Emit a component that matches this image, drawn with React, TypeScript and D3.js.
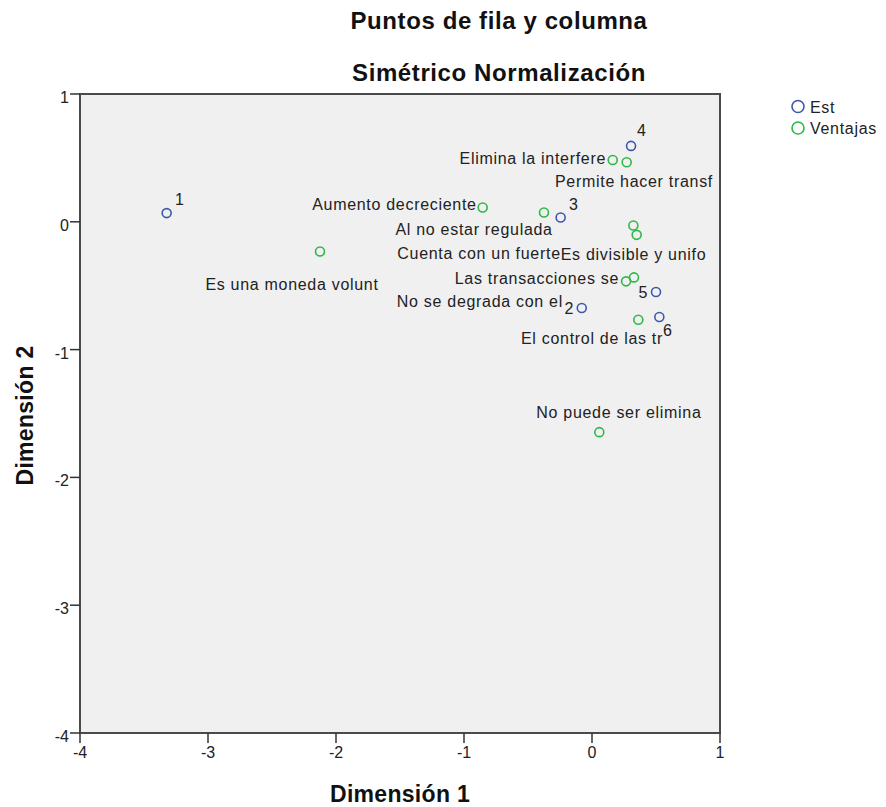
import React from "react";
import * as d3 from "d3";

const titleLines = ["Puntos de fila y columna", "Simétrico Normalización"];
const xAxisTitle = "Dimensión 1";
const yAxisTitle = "Dimensión 2";
const xTicks = [-4, -3, -2, -1, 0, 1];
const yTicks = [-4, -3, -2, -1, 0, 1];
const seriesNames = ["Est", "Ventajas"];

const estLabels = ["1", "2", "3", "4", "5", "6"];
const estDim1 = [-3.323, -0.08, -0.245, 0.305, 0.5, 0.526];
const estDim2 = [0.068, -0.674, 0.034, 0.594, -0.549, -0.745];

const ventajasLabels = [
  "Elimina la interfere",
  "Permite hacer transf",
  "Aumento decreciente",
  "Al no estar regulada",
  "Cuenta con un fuerte",
  "Es divisible y unifo",
  "Es una moneda volunt",
  "Las transacciones se",
  "No se degrada con el",
  "El control de las tr",
  "No puede ser elimina",
];
const ventajasDim1 = [0.162, 0.271, -0.854, -0.375, 0.323, 0.349, -2.125, 0.266, 0.328, 0.362, 0.057];
const ventajasDim2 = [0.484, 0.466, 0.112, 0.073, -0.029, -0.102, -0.232, -0.466, -0.435, -0.766, -1.646];

// label placement (anchor, dx, dy in px relative to marker)
const estLabelLayout: [string, number, number][] = [
  ["start", 8.3, -8.3],
  ["end", -7.7, 5.7],
  ["start", 8.3, -7.7],
  ["start", 6, -10],
  ["end", -8, 5.7],
  ["start", 3.7, 19.4],
];
const ventajasLabelLayout: [string, number, number][] = [
  ["end", -6.7, 4],
  ["middle", 7.3, 24.4],
  ["end", -6, 3],
  ["end", 8.7, 22.3],
  ["end", -72.6, 33.3],
  ["start", -76, 25],
  ["middle", -28, 38.3],
  ["end", -7, 2.3],
  ["end", -71, 29.3],
  ["end", 24.7, 24],
  ["middle", 19.6, -14.4],
];

const W = 886;
const H = 807;
const plot = { left: 80, right: 720, top: 94, bottom: 733 };
const colors = ["#3E58AC", "#2EB848"];
const font = "'Liberation Sans', Arial, sans-serif";

export default function App() {
  const x = d3.scaleLinear().domain([-4, 1]).range([plot.left, plot.right]);
  const y = d3.scaleLinear().domain([-4, 1]).range([plot.bottom, plot.top]);

  const est = estLabels.map((l, i) => ({ label: l, x: estDim1[i], y: estDim2[i], layout: estLabelLayout[i] }));
  const ven = ventajasLabels.map((l, i) => ({ label: l, x: ventajasDim1[i], y: ventajasDim2[i], layout: ventajasLabelLayout[i] }));

  const labelStyle = { fontFamily: font, fontSize: 16, letterSpacing: 0.7, fill: "#222" } as const;

  return (
    <svg
      width={W}
      height={H}
      style={{ position: "absolute", left: 0, top: 0, background: "#fff" }}
    >
      {/* titles */}
      {titleLines.map((t, i) => (
        <text
          key={t}
          x={499}
          y={i === 0 ? 29 : 81}
          textAnchor="middle"
          style={{ fontFamily: font, fontSize: 24, fontWeight: 700, letterSpacing: 0.6, fill: "#111" }}
        >
          {t}
        </text>
      ))}

      {/* plot area */}
      <rect
        x={plot.left}
        y={plot.top}
        width={plot.right - plot.left}
        height={plot.bottom - plot.top}
        fill="#F0F0F0"
        stroke="#4a4a4a"
        strokeWidth={2}
      />

      {/* x ticks */}
      {xTicks.map((t) => (
        <g key={"xt" + t}>
          <line x1={x(t)} x2={x(t)} y1={plot.bottom} y2={plot.bottom + 10} stroke="#333" strokeWidth={1.5} />
          <text
            x={x(t)}
            y={plot.bottom + 25}
            textAnchor="middle"
            style={{ fontFamily: font, fontSize: 16, fill: "#222" }}
          >
            {t}
          </text>
        </g>
      ))}
      {/* y ticks */}
      {yTicks.map((t) => (
        <g key={"yt" + t}>
          <line x1={plot.left - 10} x2={plot.left} y1={y(t)} y2={y(t)} stroke="#333" strokeWidth={1.5} />
          <text
            x={plot.left - 11}
            y={y(t) + 9}
            textAnchor="end"
            style={{ fontFamily: font, fontSize: 16, fill: "#222" }}
          >
            {t}
          </text>
        </g>
      ))}

      {/* axis titles */}
      <text
        x={(plot.left + plot.right) / 2}
        y={802}
        textAnchor="middle"
        style={{ fontFamily: font, fontSize: 23, fontWeight: 700, letterSpacing: 0.3, fill: "#111" }}
      >
        {xAxisTitle}
      </text>
      <text
        transform={`translate(33, ${(plot.top + plot.bottom) / 2 + 2}) rotate(-90)`}
        textAnchor="middle"
        style={{ fontFamily: font, fontSize: 23, fontWeight: 700, letterSpacing: 0.3, fill: "#111" }}
      >
        {yAxisTitle}
      </text>

      {/* Ventajas points */}
      {ven.map((d, i) => (
        <circle key={"v" + i} cx={x(d.x)} cy={y(d.y)} r={4.5} fill="none" stroke={colors[1]} strokeWidth={1.6} />
      ))}
      {/* Est points */}
      {est.map((d, i) => (
        <circle key={"e" + i} cx={x(d.x)} cy={y(d.y)} r={4.5} fill="none" stroke={colors[0]} strokeWidth={1.6} />
      ))}

      {/* labels */}
      {ven.map((d, i) => (
        <text
          key={"vl" + i}
          x={x(d.x) + d.layout[1]}
          y={y(d.y) + d.layout[2]}
          textAnchor={d.layout[0] as any}
          style={labelStyle}
        >
          {d.label}
        </text>
      ))}
      {est.map((d, i) => (
        <text
          key={"el" + i}
          x={x(d.x) + d.layout[1]}
          y={y(d.y) + d.layout[2]}
          textAnchor={d.layout[0] as any}
          style={labelStyle}
        >
          {d.label}
        </text>
      ))}

      {/* legend */}
      {seriesNames.map((s, i) => (
        <g key={s} transform={`translate(798, ${106.5 + i * 21.5})`}>
          <circle r={6} fill="none" stroke={colors[i]} strokeWidth={1.6} />
          <text x={12} y={6} style={{ fontFamily: font, fontSize: 16, letterSpacing: 0.7, fill: "#222" }}>
            {s}
          </text>
        </g>
      ))}
    </svg>
  );
}
